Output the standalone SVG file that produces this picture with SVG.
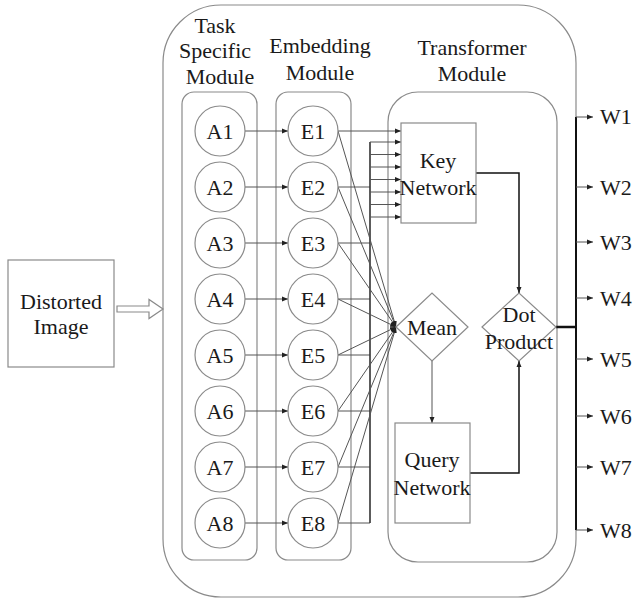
<svg xmlns="http://www.w3.org/2000/svg" width="636" height="600" viewBox="0 0 636 600">
<style>
.boxshape{fill:#fff;stroke:#8a8a8a;stroke-width:1.2}
.grpshape{fill:none;stroke:#8a8a8a;stroke-width:1.2}
.circ{fill:#fff;stroke:#8a8a8a;stroke-width:1.2}
.thin{fill:none;stroke:#555;stroke-width:1}
.dark{fill:none;stroke:#111;stroke-width:1.5}
</style>
<defs>
<marker id="ah" viewBox="0 0 6 6" refX="6" refY="3" markerWidth="6" markerHeight="6" markerUnits="userSpaceOnUse" orient="auto"><path d="M0,0.5 L6,3 L0,5.5 z" fill="#222"/></marker>
</defs>
<rect width="636" height="600" fill="#fff"/>

<g id="modules">
<rect class="grpshape" x="163" y="5" width="413" height="592" rx="58"/>
<rect class="grpshape" x="182" y="92" width="75" height="468" rx="12"/>
<rect class="grpshape" x="276" y="92" width="75" height="468" rx="12"/>
<rect class="grpshape" x="388" y="92" width="169" height="470" rx="30"/>
<g font-family="Liberation Serif" font-size="22" fill="#1a1a1a" text-anchor="middle">
<text x="215" y="33">Task</text>
<text x="215" y="58">Specific</text>
<text x="220" y="84">Module</text>
<text x="320" y="53">Embedding</text>
<text x="320" y="80">Module</text>
<text x="472" y="55">Transformer</text>
<text x="472" y="81">Module</text>
</g>
</g>

<g id="connectors">
<polygon points="117,306 149,306 149,299.5 163,309 149,318.5 149,312 117,312" fill="#fff" stroke="#8a8a8a" stroke-width="1.2"/>
<g class="thin" marker-end="url(#ah)">
<line x1="245" y1="131" x2="288" y2="131"/>
<line x1="245" y1="187" x2="288" y2="187"/>
<line x1="245" y1="243" x2="288" y2="243"/>
<line x1="245" y1="299" x2="288" y2="299"/>
<line x1="245" y1="355" x2="288" y2="355"/>
<line x1="245" y1="411" x2="288" y2="411"/>
<line x1="245" y1="467" x2="288" y2="467"/>
<line x1="245" y1="523" x2="288" y2="523"/>
</g>
<g class="thin">
<line x1="338" y1="187" x2="370" y2="187"/>
<line x1="338" y1="243" x2="370" y2="243"/>
<line x1="338" y1="299" x2="370" y2="299"/>
<line x1="338" y1="355" x2="370" y2="355"/>
<line x1="338" y1="411" x2="370" y2="411"/>
<line x1="338" y1="467" x2="370" y2="467"/>
<line x1="338" y1="523" x2="370" y2="523"/>
</g>
<line x1="370" y1="142" x2="370" y2="523" stroke="#333" stroke-width="1.6"/>
<g class="thin" marker-end="url(#ah)">
<line x1="338" y1="131" x2="401" y2="131"/>
<line x1="370" y1="142" x2="401" y2="142"/>
<line x1="370" y1="154.5" x2="401" y2="154.5"/>
<line x1="370" y1="167" x2="401" y2="167"/>
<line x1="370" y1="179.5" x2="401" y2="179.5"/>
<line x1="370" y1="192" x2="401" y2="192"/>
<line x1="370" y1="204.5" x2="401" y2="204.5"/>
<line x1="370" y1="217" x2="401" y2="217"/>
</g>
<g class="thin" marker-end="url(#ah)">
<line x1="338" y1="131" x2="396" y2="327"/>
<line x1="338" y1="187" x2="396" y2="327"/>
<line x1="338" y1="243" x2="396" y2="327"/>
<line x1="338" y1="299" x2="396" y2="327"/>
<line x1="338" y1="355" x2="396" y2="327"/>
<line x1="338" y1="411" x2="396" y2="327"/>
<line x1="338" y1="467" x2="396" y2="327"/>
<line x1="338" y1="523" x2="396" y2="327"/>
</g>
<path class="thin" d="M432,361 V423" marker-end="url(#ah)"/>
<path class="dark" d="M476,173 H519 V293" marker-end="url(#ah)"/>
<path class="dark" d="M470,473 H519 V361" marker-end="url(#ah)"/>
<line x1="556" y1="327" x2="576" y2="327" stroke="#111" stroke-width="2.5"/>
<line x1="576" y1="117" x2="576" y2="530" stroke="#111" stroke-width="2"/>
<g class="thin" marker-end="url(#ah)">
<line x1="576" y1="117" x2="593" y2="117"/>
<line x1="576" y1="187" x2="593" y2="187"/>
<line x1="576" y1="242" x2="593" y2="242"/>
<line x1="576" y1="298" x2="593" y2="298"/>
<line x1="576" y1="359" x2="593" y2="359"/>
<line x1="576" y1="416" x2="593" y2="416"/>
<line x1="576" y1="467" x2="593" y2="467"/>
<line x1="576" y1="530" x2="593" y2="530"/>
</g>
</g>

<g id="nodes" font-family="Liberation Serif" font-size="22" fill="#1a1a1a" text-anchor="middle">
<g id="distorted-image">
<rect class="boxshape" x="8" y="260" width="106" height="107"/>
<text x="61" y="309">Distorted</text>
<text x="61" y="334">Image</text>
</g>

<g id="A1"><circle class="circ" cx="220" cy="131" r="25"/><text x="220" y="138.5">A1</text></g>
<g id="A2"><circle class="circ" cx="220" cy="187" r="25"/><text x="220" y="194.5">A2</text></g>
<g id="A3"><circle class="circ" cx="220" cy="243" r="25"/><text x="220" y="250.5">A3</text></g>
<g id="A4"><circle class="circ" cx="220" cy="299" r="25"/><text x="220" y="306.5">A4</text></g>
<g id="A5"><circle class="circ" cx="220" cy="355" r="25"/><text x="220" y="362.5">A5</text></g>
<g id="A6"><circle class="circ" cx="220" cy="411" r="25"/><text x="220" y="418.5">A6</text></g>
<g id="A7"><circle class="circ" cx="220" cy="467" r="25"/><text x="220" y="474.5">A7</text></g>
<g id="A8"><circle class="circ" cx="220" cy="523" r="25"/><text x="220" y="530.5">A8</text></g>

<g id="E1"><circle class="circ" cx="313" cy="131" r="25"/><text x="313" y="138.5">E1</text></g>
<g id="E2"><circle class="circ" cx="313" cy="187" r="25"/><text x="313" y="194.5">E2</text></g>
<g id="E3"><circle class="circ" cx="313" cy="243" r="25"/><text x="313" y="250.5">E3</text></g>
<g id="E4"><circle class="circ" cx="313" cy="299" r="25"/><text x="313" y="306.5">E4</text></g>
<g id="E5"><circle class="circ" cx="313" cy="355" r="25"/><text x="313" y="362.5">E5</text></g>
<g id="E6"><circle class="circ" cx="313" cy="411" r="25"/><text x="313" y="418.5">E6</text></g>
<g id="E7"><circle class="circ" cx="313" cy="467" r="25"/><text x="313" y="474.5">E7</text></g>
<g id="E8"><circle class="circ" cx="313" cy="523" r="25"/><text x="313" y="530.5">E8</text></g>

<g id="key-network">
<rect x="401" y="123" width="75" height="100" fill="none" stroke="#8a8a8a" stroke-width="1.2"/>
<text x="438" y="168">Key</text>
<text x="438" y="195">Network</text>
</g>

<g id="mean">
<polygon class="boxshape" points="396,327 432,293 468,327 432,361"/>
<text x="432" y="335">Mean</text>
</g>

<g id="query-network">
<rect class="boxshape" x="395" y="423" width="75" height="100"/>
<text x="432" y="467">Query</text>
<text x="432" y="495">Network</text>
</g>

<g id="dot-product">
<polygon class="boxshape" points="482,327 519,293 556,327 519,361"/>
<text x="519" y="322">Dot</text>
<text x="519" y="349">Product</text>
</g>
</g>

<g id="outputs" font-family="Liberation Serif" font-size="22" fill="#1a1a1a">
<text x="600" y="124">W1</text>
<text x="600" y="195">W2</text>
<text x="600" y="250">W3</text>
<text x="600" y="306">W4</text>
<text x="600" y="367">W5</text>
<text x="600" y="424">W6</text>
<text x="600" y="475">W7</text>
<text x="600" y="538">W8</text>
</g>
</svg>
